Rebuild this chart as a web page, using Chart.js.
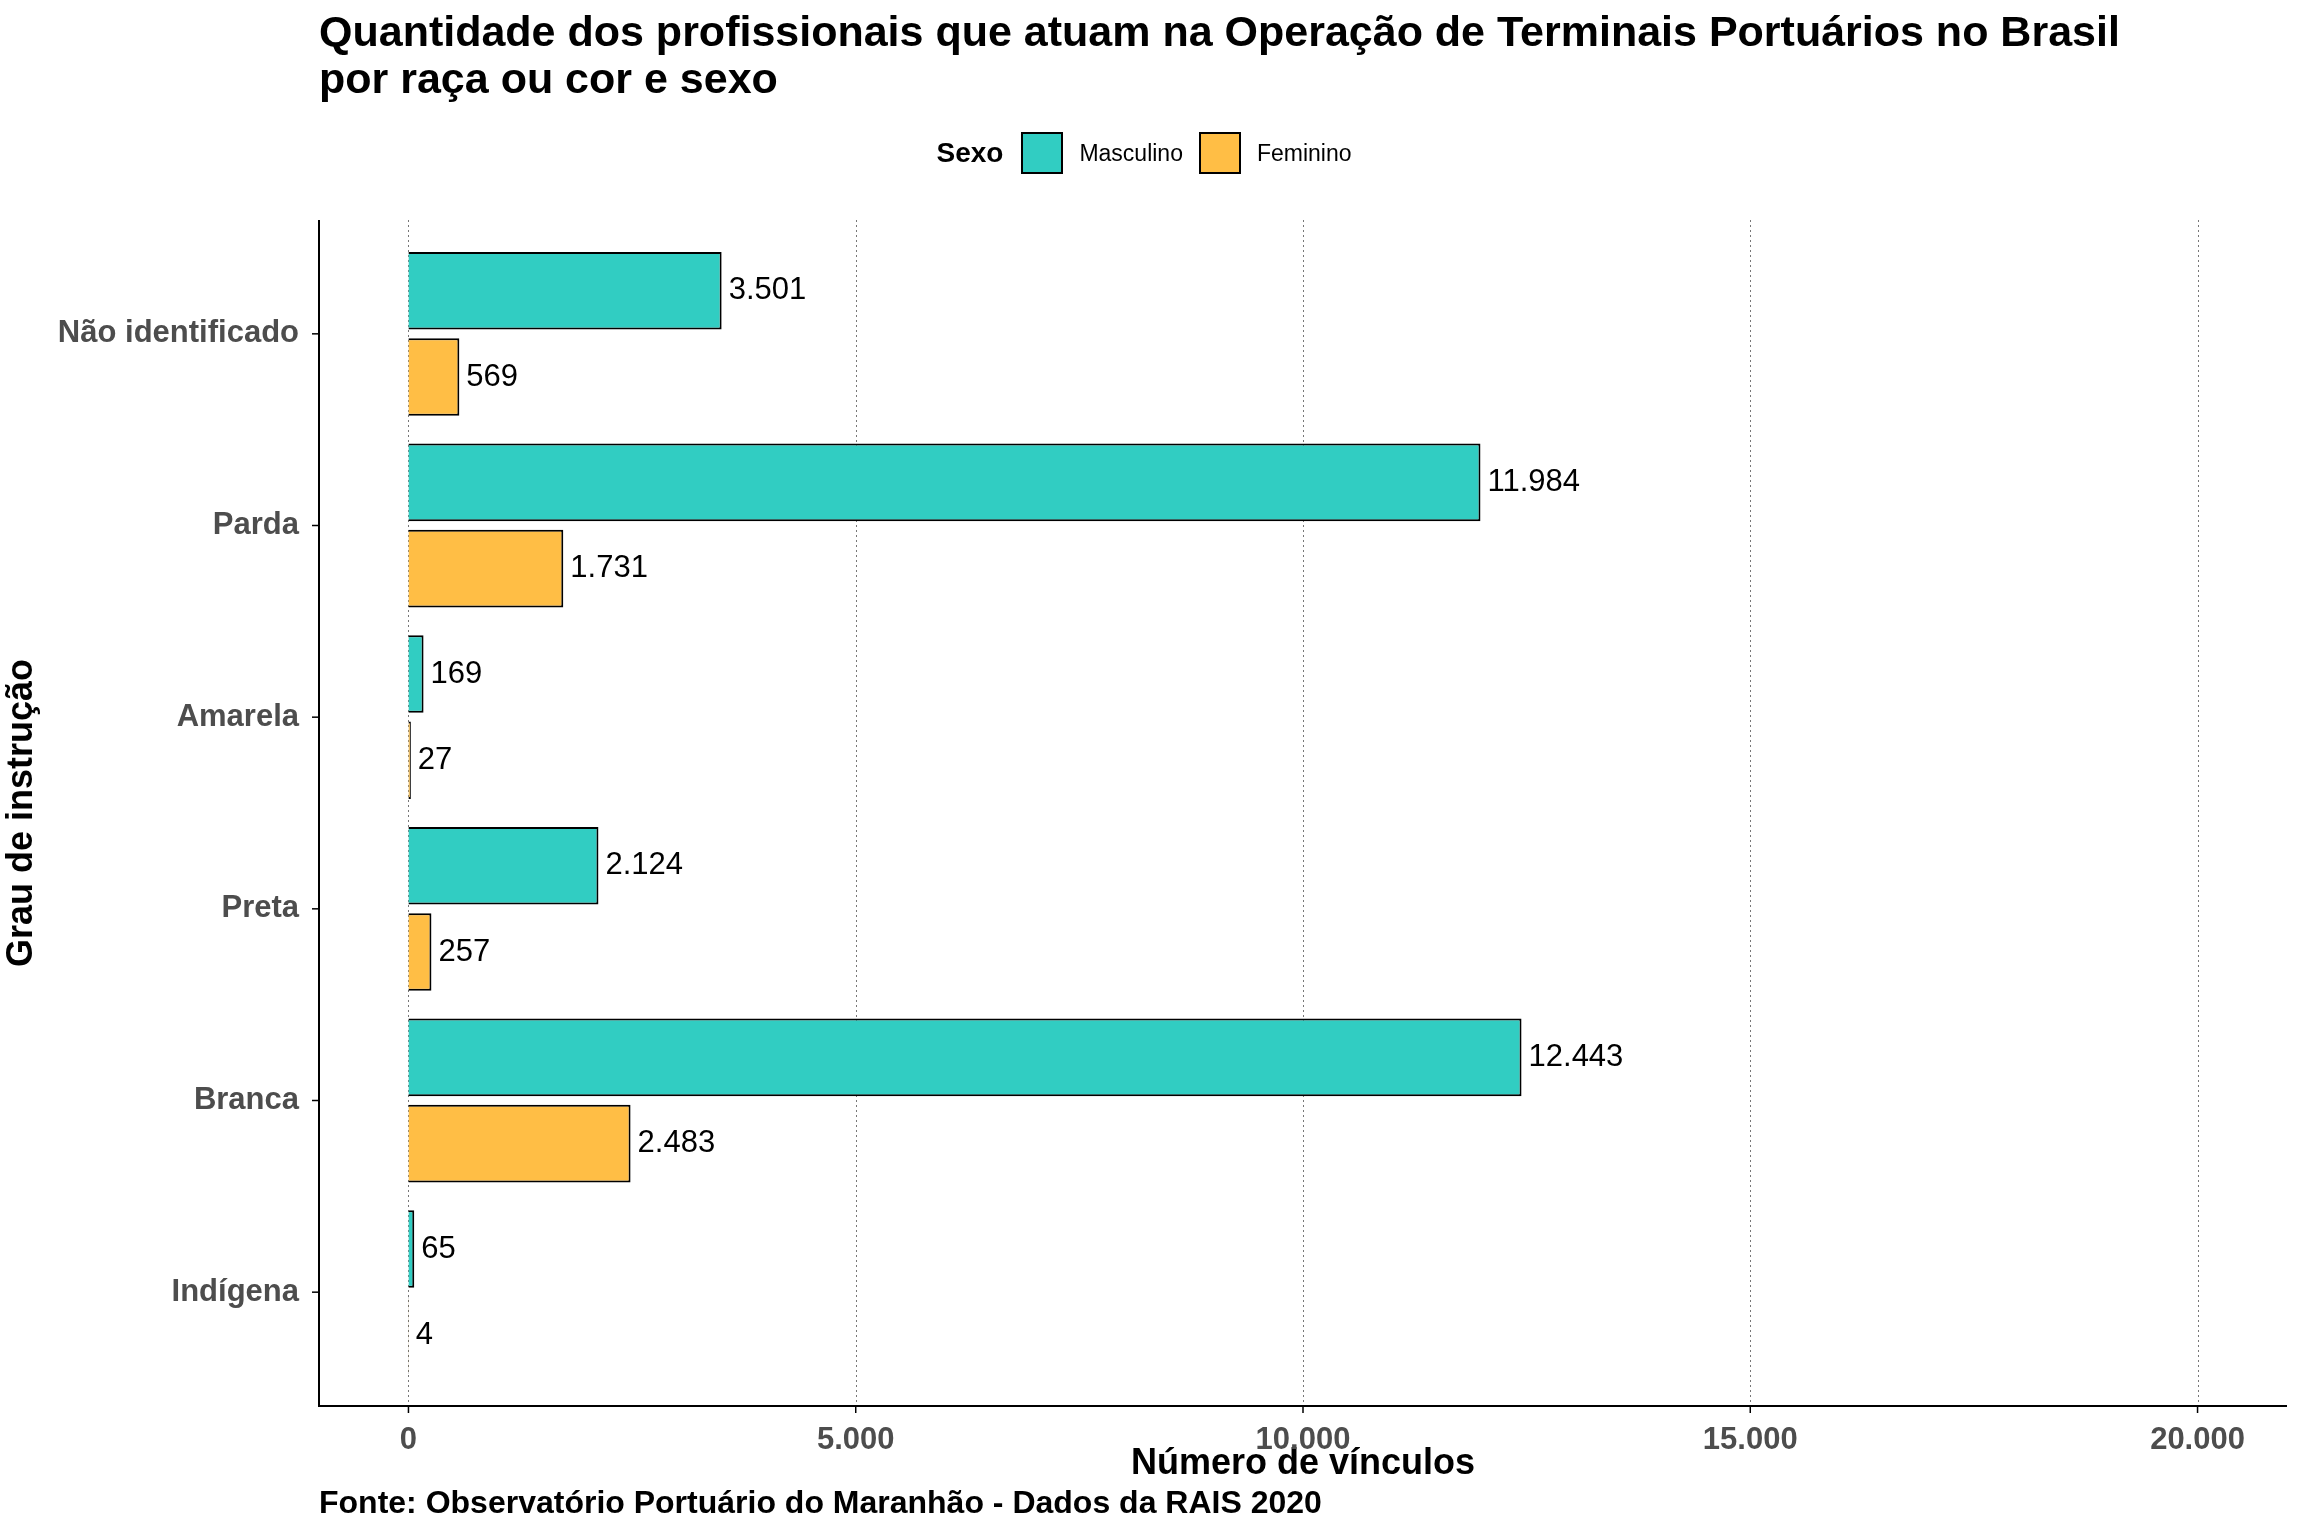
<!DOCTYPE html>
<html>
<head>
<meta charset="utf-8">
<script src="https://cdn.jsdelivr.net/npm/chart.js@4"></script>
<style>
  body { margin: 0; background: #fff; font-family: Arial, "Liberation Sans", sans-serif; }
  #wrap { position: relative; width: 2304px; height: 1536px; }
  #title { position: absolute; left: 319px; top: 8px; font-size: 43px; font-weight: bold; line-height: 47px; color: #000; }
  #legend { position: absolute; left: 0; width: 2304px; top: 132px; display: flex; justify-content: center; align-items: center; font-size: 23px; }
  #legend b { font-size: 28px; margin-right: 18px; }
  .box { width: 42px; height: 42px; border: 2px solid #000; box-sizing: border-box; margin-right: 16px; }
  .lab { margin-right: 16px; }
  #source { position: absolute; left: 319px; top: 1484px; font-size: 32px; font-weight: bold; color: #000; }
</style>
</head>
<body>
<div id="wrap">
  <div id="title">Quantidade dos profissionais que atuam na Operação de Terminais Portuários no Brasil<br>por raça ou cor e sexo</div>
  <div id="legend"><b>Sexo</b><div class="box" style="background:#31CDC2"></div><span class="lab">Masculino</span><div class="box" style="background:#FFBE45"></div><span class="lab">Feminino</span></div>
  <canvas id="c" width="2304" height="1536"></canvas>
  <div id="source">Fonte: Observatório Portuário do Maranhão - Dados da RAIS 2020</div>
</div>
<script>
const categories = ['Não identificado', 'Parda', 'Amarela', 'Preta', 'Branca', 'Indígena'];
const masculino = [3501, 11984, 169, 2124, 12443, 65];
const feminino = [569, 1731, 27, 257, 2483, 4];
const xTicks = [0, 5000, 10000, 15000, 20000];
const EXTRA = 18; // space between outer bars and the panel edge

function fmt(v) {
    return String(v).replace(/\B(?=(\d{3})+(?!\d))/g, '.');
}

const barLabels = {
    id: 'barLabels',
    afterDatasetsDraw(chart) {
        const ctx = chart.ctx;
        ctx.save();
        ctx.font = '31px Arial, "Liberation Sans", sans-serif';
        ctx.fillStyle = '#000';
        ctx.textBaseline = 'middle';
        chart.data.datasets.forEach((ds, i) => {
            chart.getDatasetMeta(i).data.forEach((bar, j) => {
                ctx.fillText(fmt(ds.data[j]), bar.x + 7, bar.y);
            });
        });
        ctx.restore();
    }
};

// dotted vertical grid plus the two axis lines, drawn on the panel edges
const panel = {
    id: 'panel',
    beforeDatasetsDraw(chart) {
        const ctx = chart.ctx;
        const a = chart.chartArea;
        const x = chart.scales.x;
        const top = a.top - EXTRA, bottom = a.bottom + EXTRA;
        ctx.save();
        ctx.strokeStyle = '#777';
        ctx.lineWidth = 1;
        ctx.setLineDash([2, 3]);
        xTicks.forEach(v => {
            const px = Math.round(x.getPixelForValue(v)) + 0.5;
            ctx.beginPath(); ctx.moveTo(px, top); ctx.lineTo(px, bottom); ctx.stroke();
        });
        ctx.setLineDash([]);
        ctx.strokeStyle = '#000';
        ctx.lineWidth = 2;
        ctx.beginPath();
        ctx.moveTo(a.left, top); ctx.lineTo(a.left, bottom); ctx.lineTo(a.right, bottom);
        ctx.stroke();
        ctx.lineWidth = 1.5;
        xTicks.forEach(v => {
            const px = x.getPixelForValue(v);
            ctx.beginPath(); ctx.moveTo(px, bottom); ctx.lineTo(px, bottom + 7); ctx.stroke();
        });
        chart.scales.y.ticks.forEach((t, i) => {
            const py = chart.scales.y.getPixelForTick(i);
            ctx.beginPath(); ctx.moveTo(a.left - 7, py); ctx.lineTo(a.left, py); ctx.stroke();
        });
        ctx.restore();
    }
};

new Chart(document.getElementById('c').getContext('2d'), {
    type: 'bar',
    data: {
        labels: categories,
        datasets: [
            { label: 'Masculino', data: masculino, backgroundColor: '#31CDC2', borderColor: '#000', borderWidth: 2 },
            { label: 'Feminino', data: feminino, backgroundColor: '#FFBE45', borderColor: '#000', borderWidth: 2 }
        ]
    },
    options: {
        indexAxis: 'y',
        responsive: false,
        animation: false,
        layout: { padding: { top: 220 + EXTRA, right: 17, bottom: 50, left: 0 } },
        categoryPercentage: 0.9,
        barPercentage: 0.9,
        scales: {
            x: {
                min: -1000,
                max: 21000,
                afterBuildTicks(scale) { scale.ticks = xTicks.map(v => ({ value: v })); },
                afterFit(scale) { scale.height = 80 + EXTRA; },
                grid: { display: false },
                border: { display: false },
                ticks: { callback: v => fmt(v), color: '#4d4d4d', font: { size: 31, weight: 'bold' }, padding: EXTRA + 8 },
                title: { display: true, text: 'Número de vínculos', color: '#000', font: { size: 36, weight: 'bold' }, padding: 0 }
            },
            y: {
                afterFit(scale) { scale.width = 319; },
                grid: { display: false },
                border: { display: false },
                ticks: { color: '#4d4d4d', font: { size: 31, weight: 'bold' }, padding: 12 },
                title: { display: true, text: 'Grau de instrução', color: '#000', font: { size: 36, weight: 'bold' }, padding: 0 }
            }
        },
        plugins: { legend: { display: false }, tooltip: { enabled: false } }
    },
    plugins: [panel, barLabels]
});
</script>
</body>
</html>
